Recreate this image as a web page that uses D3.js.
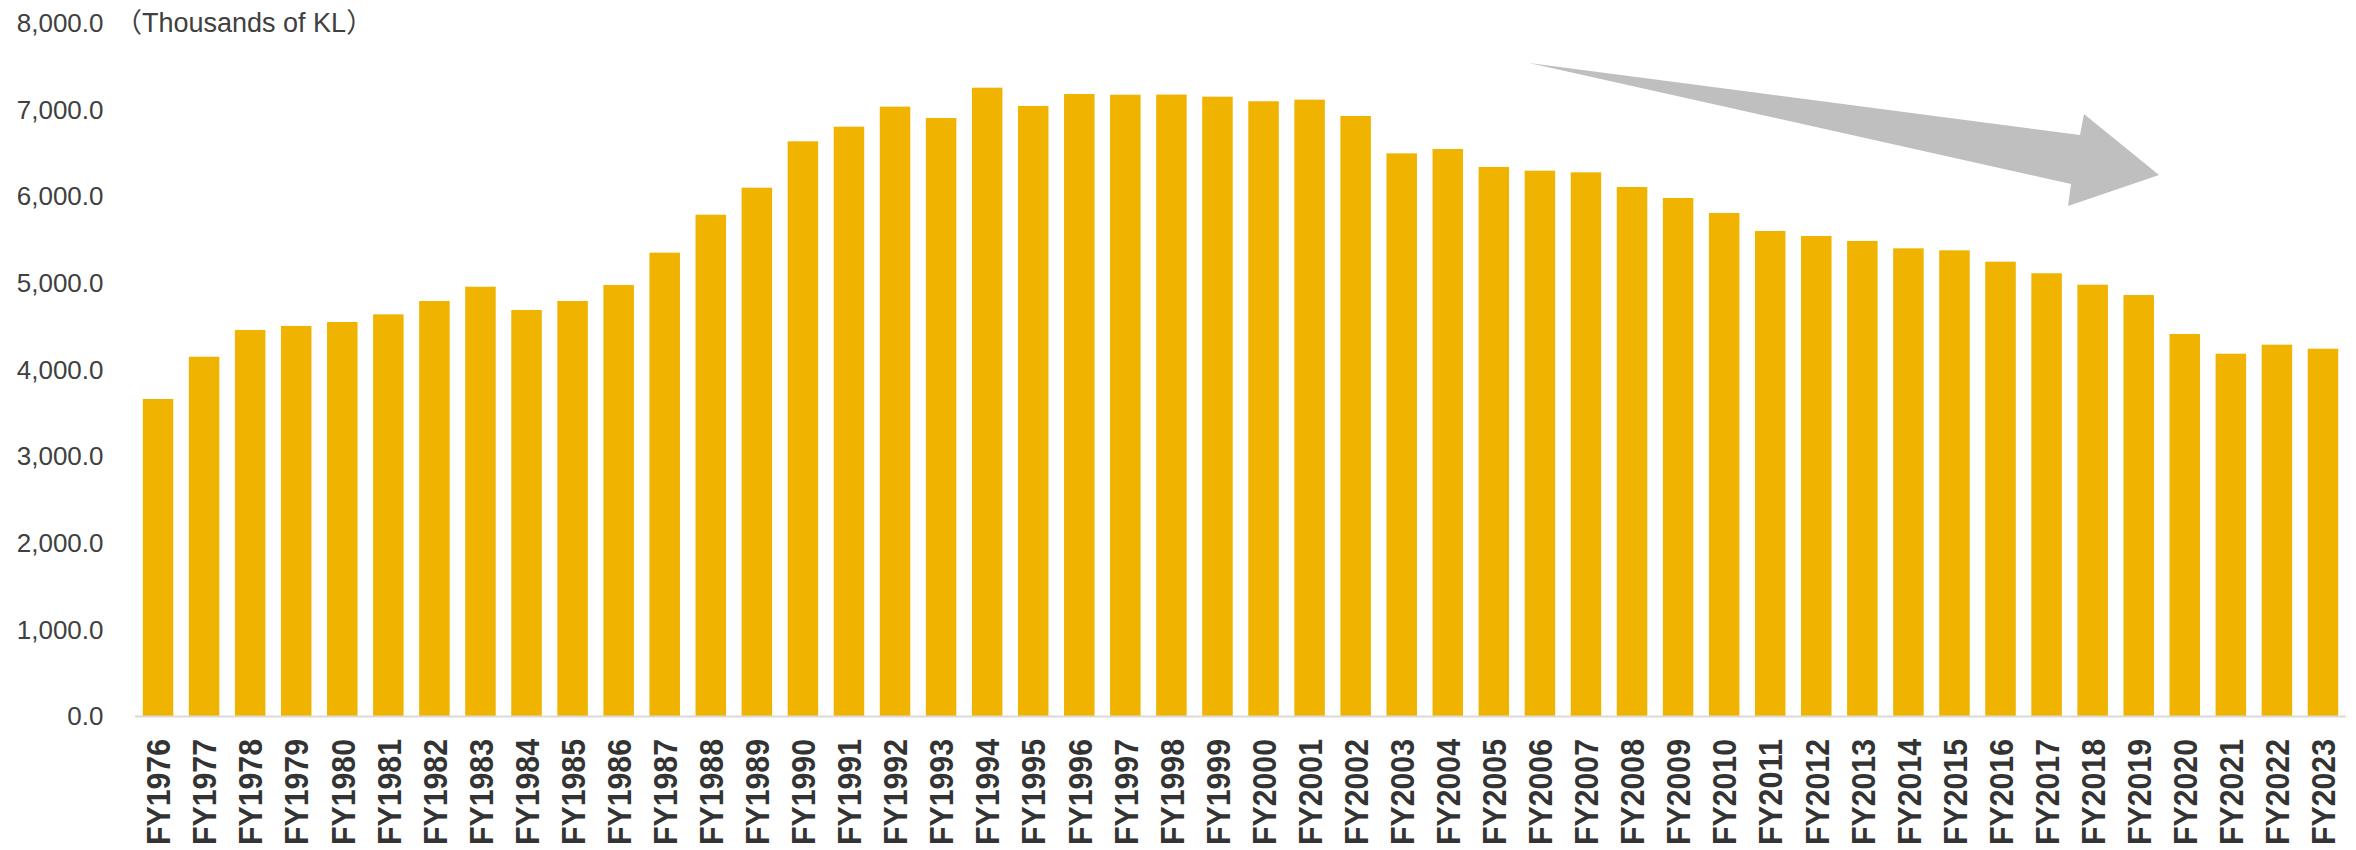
<!DOCTYPE html>
<html>
<head>
<meta charset="utf-8">
<script src="https://cdn.jsdelivr.net/npm/d3@7"></script>
<style>
  html, body { margin: 0; padding: 0; background: #fff; }
  svg { display: block; }
</style>
</head>
<body>
<svg id="chart" width="2356" height="850"></svg>
<script>
// ---- data ----
const categories = ["FY1976","FY1977","FY1978","FY1979","FY1980","FY1981","FY1982","FY1983","FY1984","FY1985",
  "FY1986","FY1987","FY1988","FY1989","FY1990","FY1991","FY1992","FY1993","FY1994","FY1995",
  "FY1996","FY1997","FY1998","FY1999","FY2000","FY2001","FY2002","FY2003","FY2004","FY2005",
  "FY2006","FY2007","FY2008","FY2009","FY2010","FY2011","FY2012","FY2013","FY2014","FY2015",
  "FY2016","FY2017","FY2018","FY2019","FY2020","FY2021","FY2022","FY2023"];
const values = [3664,4152,4461,4507,4553,4641,4795,4960,4691,4795,
  4980,5353,5791,6103,6638,6807,7038,6907,7257,7046,
  7184,7176,7178,7153,7100,7119,6930,6499,6549,6342,
  6299,6280,6111,5984,5811,5603,5545,5488,5403,5380,
  5249,5115,4983,4864,4414,4187,4291,4245];
const yTicks = [0,1000,2000,3000,4000,5000,6000,7000,8000];
const unitLabel = "（Thousands of KL）";

// ---- layout ----
const svg = d3.select("#chart");
const plotLeft = 135, plotRight = 2346, plotBottom = 716.5, plotTop = 23.3;

const x = d3.scaleBand().domain(categories).range([plotLeft, plotRight])
  .paddingInner(0.338).paddingOuter(0.169);
const y = d3.scaleLinear().domain([0, 8000]).range([plotBottom, plotTop]);

// bars
svg.append("g").selectAll("rect").data(values).join("rect")
  .attr("x", (d, i) => x(categories[i]))
  .attr("y", d => y(d))
  .attr("width", x.bandwidth())
  .attr("height", d => y(0) - y(d))
  .attr("fill", "#EFB300");

// x axis line
svg.append("line")
  .attr("x1", plotLeft).attr("x2", plotRight)
  .attr("y1", y(0)).attr("y2", y(0))
  .attr("stroke", "#D9D9D9").attr("stroke-width", 2);

// y axis (labels only)
const yAxis = d3.axisLeft(y).tickValues(yTicks).tickSize(0).tickPadding(31.5)
  .tickFormat(d3.format(",.1f"));
const gy = svg.append("g").attr("transform", `translate(${plotLeft},0)`).call(yAxis);
gy.select(".domain").remove();
gy.selectAll("text")
  .attr("font-family", "'Liberation Sans', Arial, sans-serif")
  .attr("font-size", 26)
  .attr("fill", "#404040");

// unit label
svg.append("text")
  .attr("x", 115).attr("y", y(8000))
  .attr("dy", "0.32em")
  .attr("font-family", "'Liberation Sans', 'Noto Sans CJK JP', Arial, sans-serif")
  .attr("font-size", 27)
  .attr("fill", "#404040")
  .text(unitLabel);

// x axis labels (rotated)
const xAxis = d3.axisBottom(x).tickSize(0).tickPadding(0);
const gx = svg.append("g").attr("transform", `translate(0,${y(0)})`).call(xAxis);
gx.select(".domain").remove();
gx.selectAll(".tick text")
  .attr("transform", "translate(0,22.5) rotate(-90)")
  .attr("x", 0).attr("y", 0).attr("dy", "0.36em")
  .attr("text-anchor", "end")
  .attr("font-family", "'Liberation Sans', Arial, sans-serif")
  .attr("font-weight", "bold")
  .attr("font-size", 34)
  .attr("fill", "#333333")
  .attr("textLength", 106)
  .attr("lengthAdjust", "spacingAndGlyphs");

// trend arrow annotation
const arrowPts = [[1529,63],[2080,135],[2084,114],[2159,175],[2068,206],[2071,184]];
svg.append("path")
  .attr("d", d3.line()(arrowPts) + "Z")
  .attr("fill", "#BFBFBF");
</script>
</body>
</html>
